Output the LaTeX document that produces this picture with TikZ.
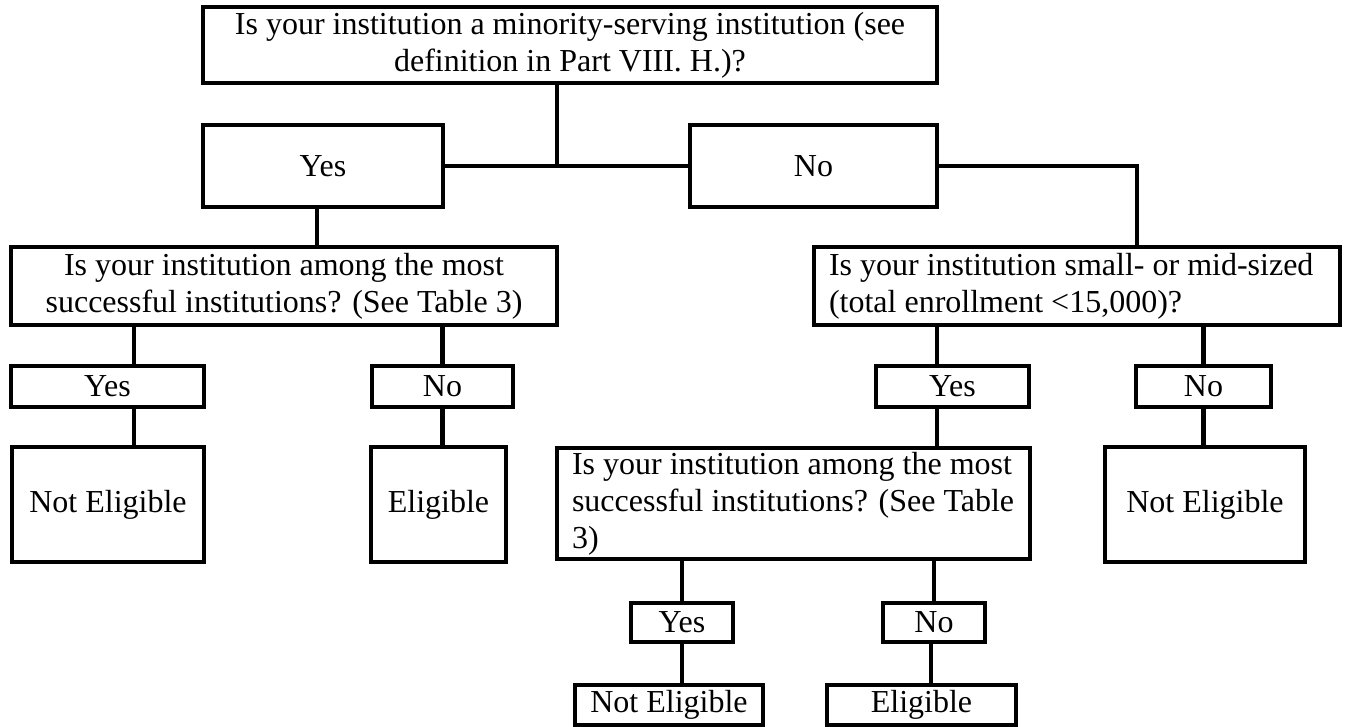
\documentclass[tikz,border=0pt]{standalone}
\usepackage{fontspec}
\setmainfont{Liberation Serif}
\begin{document}
\begin{tikzpicture}[x=1pt,y=-1pt,
  box/.style={draw=black, line width=4.5pt, inner sep=0pt, font=\fontsize{32}{37}\selectfont, align=center},
  leftq/.style={box, align=flush left, inner ysep=0pt},
  link/.style={draw=black, line width=4.5pt}]
\useasboundingbox (0,0) rectangle (1348,727);

% level 1
\node[box, minimum width=734, minimum height=76] (top) at (570,45)
  {Is your institution a minority-serving institution (see\\definition in Part VIII. H.)?};
\node[box, minimum width=240, minimum height=82] (yes1) at (323,166) {Yes};
\node[box, minimum width=247, minimum height=82] (no1) at (813.5,166) {No};

% left branch
\node[box, minimum width=546, minimum height=78] (q2) at (284,286)
  {Is your institution among the most\\successful institutions? (See Table 3)};
\node[box, minimum width=193, minimum height=41] (y3a) at (107.5,386.5) {Yes};
\node[box, minimum width=141, minimum height=41] (n3a) at (442.5,386.5) {No};
\node[box, minimum width=192, minimum height=115] (ne1) at (108,504.5) {Not Eligible};
\node[box, minimum width=135, minimum height=115] (el1) at (438.5,504.5) {Eligible};

% right branch
\node[leftq, inner xsep=15pt, text width=496, minimum height=78] (q3) at (1077,286)
  {Is your institution small- or mid-sized\\(total enrollment <15,000)?};
\node[box, minimum width=153, minimum height=41] (y3b) at (952.5,386.5) {Yes};
\node[box, minimum width=135, minimum height=41] (n3b) at (1203.5,386.5) {No};
\node[box, minimum width=200, minimum height=115] (ne3) at (1205,504.5) {Not Eligible};
\node[leftq, inner xsep=15pt, text width=443, minimum height=111] (q4) at (793.5,503.5)
  {Is your institution among the most\\successful institutions? (See~Table\\3)};
\node[box, minimum width=102, minimum height=39] (y4) at (682,622.5) {Yes};
\node[box, minimum width=102, minimum height=39] (n4) at (934,622.5) {No};
\node[box, minimum width=188, minimum height=40] (ne4) at (669,705) {Not Eligible};
\node[box, minimum width=189, minimum height=40] (el4) at (921.5,705) {Eligible};

% connectors
\coordinate (j) at (557,166);
\draw[link] (top.south -| j) -- (j);
\draw[link] (yes1.east) -- (no1.west);
\draw[link] (no1.east) -| ([xshift=60pt]q3.north);
\draw[link] ([xshift=-6pt]yes1.south) -- ([xshift=-6pt]yes1.south |- q2.north);

\draw[link] ([xshift=26.5pt]y3a.north |- q2.south) -- ([xshift=26.5pt]y3a.north);
\draw[link] ([xshift=26.5pt]y3a.south) -- ([xshift=26.5pt]y3a.south |- ne1.north);
\draw[link] (n3a.north |- q2.south) -- (n3a.north);
\draw[link] (n3a.south) -- (n3a.south |- el1.north);

\draw[link] ([xshift=-15.5pt]y3b.north |- q3.south) -- ([xshift=-15.5pt]y3b.north);
\draw[link] ([xshift=-15.5pt]y3b.south) -- ([xshift=-15.5pt]y3b.south |- q4.north);
\draw[link] (n3b.north |- q3.south) -- (n3b.north);
\draw[link] (n3b.south) -- (n3b.south |- ne3.north);

\draw[link] (y4.north |- q4.south) -- (y4.north);
\draw[link] (y4.south) -- (y4.south |- ne4.north);
\draw[link] (n4.north |- q4.south) -- (n4.north);
\draw[link] ([xshift=-3pt]n4.south) -- ([xshift=-3pt]n4.south |- el4.north);
\end{tikzpicture}
\end{document}
